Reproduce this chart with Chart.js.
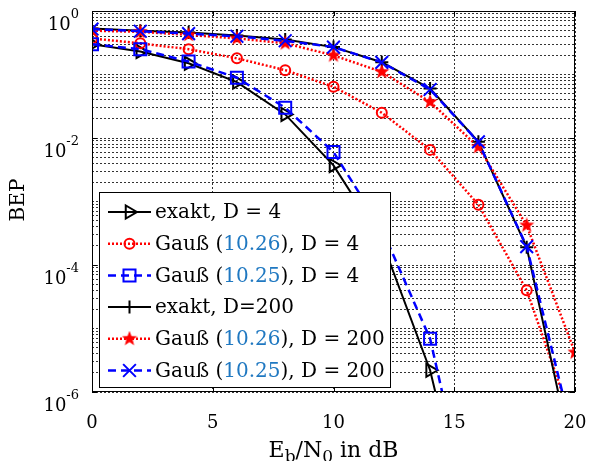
<!DOCTYPE html>
<html>
<head>
<meta charset="utf-8">
<script src="https://cdn.jsdelivr.net/npm/chart.js@4/dist/chart.umd.min.js"></script>
<style>
html, body { margin: 0; padding: 0; background: #fff; }
#wrap { width: 589px; height: 461px; }
</style>
</head>
<body>
<div id="wrap"><canvas id="bepChart" width="589" height="461"></canvas></div>
<script>
// Eb/N0 in dB
const snrDb = [0, 2, 4, 6, 8, 10, 12, 14, 16, 18, 20];

// bit error probability
const exaktD4     = [0.30, 0.23, 0.15, 0.076, 0.0235, 0.0037, 2.4e-4, 2.2e-6, 1.5e-9];
const gauss26D4   = [0.37, 0.31, 0.25, 0.18, 0.117, 0.064, 0.025, 0.0065, 8.9e-4, 4.0e-5, 2.6e-7];
const gauss25D4   = [0.30, 0.25, 0.16, 0.089, 0.030, 0.0060, 3.7e-4, 6.9e-6, 3e-9];
const exaktD200   = [0.53, 0.49, 0.46, 0.41, 0.355, 0.27, 0.156, 0.060, 0.0087, 1.9e-4, 6e-8];
const gauss26D200 = [0.49, 0.47, 0.42, 0.37, 0.31, 0.20, 0.11, 0.037, 0.0072, 4.2e-4, 4.2e-6];
const gauss25D200 = [0.52, 0.48, 0.44, 0.40, 0.34, 0.27, 0.155, 0.058, 0.0087, 1.95e-4, 1.5e-7];

const xTickValues = [0, 5, 10, 15, 20];
const yDecades = [1, 1e-2, 1e-4, 1e-6];
const yDecadeExp = ['0', '-2', '-4', '-6'];

const eqRef = ['10.26', '10.25'];
const refColor = '#1f78c1';

const serif = '"DejaVu Serif", "Liberation Serif", serif';

// filled star used as point style
function makeStar(size, color) {
    const c = document.createElement('canvas');
    c.width = size; c.height = size;
    const g = c.getContext('2d');
    const cx = size / 2, cy = size / 2, ro = size / 2, ri = ro * 0.42;
    g.beginPath();
    for (let i = 0; i < 10; i++) {
        const r = i % 2 === 0 ? ro : ri;
        const a = -Math.PI / 2 + i * Math.PI / 5;
        g.lineTo(cx + r * Math.cos(a), cy + r * Math.sin(a));
    }
    g.closePath();
    g.fillStyle = color;
    g.fill();
    return c;
}
const starImg = makeStar(16, '#ff0000');

function toPoints(arr) {
    return arr.map((v, i) => ({ x: snrDb[i], y: v }));
}

// look of each curve (also used for the hand-drawn legend)
const curves = [
    { data: exaktD4, color: '#000', dash: [], width: 2, marker: 'triangle', radius: 7.5, rotation: 90,
      text: [['exakt, D = 4', '#000']] },
    { data: gauss26D4, color: '#ff0000', dash: [2, 2], width: 2.5, marker: 'circle', radius: 5,
      text: [['Gauß (', '#000'], [eqRef[0], refColor], ['), D = 4', '#000']] },
    { data: gauss25D4, color: '#0000ff', dash: [8, 5], width: 2.5, marker: 'rect', radius: 8.5,
      text: [['Gauß (', '#000'], [eqRef[1], refColor], ['), D = 4', '#000']] },
    { data: exaktD200, color: '#000', dash: [], width: 2, marker: 'cross', radius: 6.5,
      text: [['exakt, D=200', '#000']] },
    { data: gauss26D200, color: '#ff0000', dash: [2, 2], width: 2.5, marker: starImg, radius: 8,
      text: [['Gauß (', '#000'], [eqRef[0], refColor], ['), D = 200', '#000']] },
    { data: gauss25D200, color: '#0000ff', dash: [8, 5], width: 2.5, marker: 'crossRot', radius: 9,
      text: [['Gauß (', '#000'], [eqRef[1], refColor], ['), D = 200', '#000']] }
];

const datasets = curves.map((c, i) => ({
    data: toPoints(c.data),
    borderColor: c.color,
    borderWidth: c.width,
    borderDash: c.dash,
    backgroundColor: 'rgba(0,0,0,0)',
    pointStyle: c.marker,
    pointRadius: c.radius,
    pointRotation: c.rotation || 0,
    pointBorderColor: c.color,
    pointBorderWidth: 2,
    pointBackgroundColor: 'rgba(0,0,0,0)',
    tension: 0,
    order: curves.length - i
}));

function drawLegendMarker(ctx, c, x, y) {
    ctx.save();
    ctx.setLineDash([]);
    ctx.strokeStyle = c.color;
    ctx.lineWidth = 2;
    const r = c.radius;
    ctx.beginPath();
    if (c.marker === 'triangle') {
        ctx.moveTo(x + r, y);
        ctx.lineTo(x - r / 2, y - r * 0.866);
        ctx.lineTo(x - r / 2, y + r * 0.866);
        ctx.closePath();
    } else if (c.marker === 'circle') {
        ctx.arc(x, y, r, 0, Math.PI * 2);
    } else if (c.marker === 'rect') {
        const s = r * Math.SQRT1_2;
        ctx.rect(x - s, y - s, 2 * s, 2 * s);
    } else if (c.marker === 'cross') {
        ctx.moveTo(x - r, y); ctx.lineTo(x + r, y);
        ctx.moveTo(x, y - r); ctx.lineTo(x, y + r);
    } else if (c.marker === 'crossRot') {
        const s = r * Math.SQRT1_2;
        ctx.moveTo(x - s, y - s); ctx.lineTo(x + s, y + s);
        ctx.moveTo(x - s, y + s); ctx.lineTo(x + s, y - s);
    } else {
        ctx.drawImage(c.marker, x - c.marker.width / 2, y - c.marker.height / 2);
    }
    ctx.stroke();
    ctx.restore();
}

const decorPlugin = {
    id: 'decor',
    afterDatasetsDraw(chart) {
        const ctx = chart.ctx;
        const a = chart.chartArea;
        const xs = chart.scales.x, ys = chart.scales.y;
        ctx.save();

        // axes box and inward ticks
        ctx.strokeStyle = '#000';
        ctx.lineWidth = 1;
        ctx.setLineDash([]);
        ctx.strokeRect(a.left + 0.5, a.top + 0.5, a.right - a.left - 1, a.bottom - a.top - 1);
        ctx.beginPath();
        xTickValues.forEach(v => {
            const px = Math.round(xs.getPixelForValue(v)) + 0.5;
            ctx.moveTo(px, a.bottom); ctx.lineTo(px, a.bottom - 5);
            ctx.moveTo(px, a.top); ctx.lineTo(px, a.top + 5);
        });
        yDecades.forEach(v => {
            const py = Math.round(ys.getPixelForValue(v)) + 0.5;
            ctx.moveTo(a.left, py); ctx.lineTo(a.left + 5, py);
            ctx.moveTo(a.right, py); ctx.lineTo(a.right - 5, py);
        });
        ctx.stroke();

        // y tick labels 10^k
        ctx.fillStyle = '#000';
        yDecades.forEach((v, i) => {
            const py = ys.getPixelForValue(v);
            ctx.font = '13px ' + serif;
            ctx.textAlign = 'right';
            ctx.textBaseline = 'middle';
            const ew = ctx.measureText(yDecadeExp[i]).width;
            ctx.fillText(yDecadeExp[i], 79, py + 4);
            ctx.font = '18px ' + serif;
            ctx.fillText('10', 79 - ew, py + 14);
        });

        // axis titles
        ctx.save();
        ctx.translate(19, 200);
        ctx.rotate(-Math.PI / 2);
        ctx.font = '20px ' + serif;
        ctx.textAlign = 'center';
        ctx.textBaseline = 'middle';
        ctx.fillText('BEP', 0, 0);
        ctx.restore();

        const parts = [['E', 22, 0], ['b', 17, 5], ['/N', 22, 0], ['0', 17, 5], [' in dB', 22, 0]];
        let total = 0;
        parts.forEach(p => { ctx.font = p[1] + 'px ' + serif; total += ctx.measureText(p[0]).width; });
        let tx = (a.left + a.right) / 2 - total / 2;
        ctx.textAlign = 'left';
        ctx.textBaseline = 'alphabetic';
        parts.forEach(p => {
            ctx.font = p[1] + 'px ' + serif;
            ctx.fillText(p[0], tx, 457 + p[2]);
            tx += ctx.measureText(p[0]).width;
        });

        // legend box
        const lx = 99, ly = 192, lw = 291, lh = 195;
        ctx.fillStyle = '#fff';
        ctx.fillRect(lx, ly, lw, lh);
        ctx.strokeStyle = '#000';
        ctx.lineWidth = 1;
        ctx.strokeRect(lx + 0.5, ly + 0.5, lw, lh);
        curves.forEach((c, i) => {
            const ey = 212 + i * 31.7;
            ctx.save();
            ctx.strokeStyle = c.color;
            ctx.lineWidth = c.width;
            ctx.setLineDash(c.dash);
            ctx.beginPath();
            ctx.moveTo(108, ey); ctx.lineTo(151, ey);
            ctx.stroke();
            ctx.restore();
            drawLegendMarker(ctx, c, 129.5, ey);
            ctx.font = '20px ' + serif;
            ctx.textBaseline = 'middle';
            ctx.textAlign = 'left';
            let px = 155;
            c.text.forEach(t => {
                ctx.fillStyle = t[1];
                ctx.fillText(t[0], px, ey + 1);
                px += ctx.measureText(t[0]).width;
            });
        });
        ctx.restore();
    }
};

const yGridValues = [];
for (let e = -6; e < 0; e++) {
    for (let m = 1; m < 10; m++) yGridValues.push(m * Math.pow(10, e));
}
yGridValues.push(1);

new Chart(document.getElementById('bepChart').getContext('2d'), {
    type: 'line',
    data: { datasets: datasets },
    options: {
        responsive: false,
        animation: false,
        devicePixelRatio: 1,
        layout: { padding: { top: 5, right: 14, bottom: 0, left: 0 } },
        plugins: { legend: { display: false }, tooltip: { enabled: false } },
        scales: {
            x: {
                type: 'linear',
                min: 0,
                max: 20,
                afterBuildTicks: s => { s.ticks = xTickValues.map(v => ({ value: v })); },
                afterFit: s => { s.height = 69; s.paddingLeft = 0; s.paddingRight = 0; },
                ticks: { color: '#000', font: { family: serif, size: 18 }, padding: 21, maxRotation: 0 },
                grid: { color: 'rgba(0,0,0,0.8)', lineWidth: 1, drawTicks: false },
                border: { display: false, dash: [2, 2] }
            },
            y: {
                type: 'logarithmic',
                min: 1e-6,
                max: 1,
                afterBuildTicks: s => { s.ticks = yGridValues.map(v => ({ value: v })); },
                afterFit: s => { s.width = 92; s.paddingTop = 0; s.paddingBottom = 0; },
                ticks: { display: false, autoSkip: false },
                grid: { color: 'rgba(0,0,0,0.8)', lineWidth: 1, drawTicks: false },
                border: { display: false, dash: [2, 2] }
            }
        }
    },
    plugins: [decorPlugin]
});
</script>
</body>
</html>
